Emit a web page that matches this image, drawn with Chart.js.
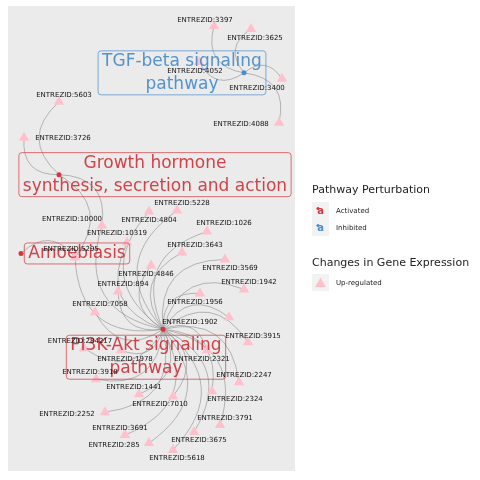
<!DOCTYPE html>
<html>
<head>
<meta charset="utf-8">
<script src="https://cdn.jsdelivr.net/npm/chart.js@4"></script>
<style>
  body { margin: 0; background: #fff; }
  #wrap { width: 480px; height: 480px; }
</style>
</head>
<body>
<div id="wrap"><canvas id="net" width="480" height="480"></canvas></div>
<script>
// Network layout (layout units)
const pathwayNames = ['TGF-beta signaling\npathway', 'Growth hormone\nsynthesis, secretion and action', 'Amoebiasis', 'PI3K-Akt signaling\npathway'];
const pathwayState = ['Inhibited', 'Activated', 'Activated', 'Activated'];
const pathwayX = [244, 59, 21, 163];
const pathwayY = [72, 174, 253, 329];
const pathwayLabelX = [182, 155, 77, 146];
const pathwayLabelY = [72, 174, 253, 357];

const geneIds = ['3397', '3625', '4052', '3400', '4088', '5603', '3726', '5228', '4804', '1026', '10319', '10000',
  '3643', '5295', '4846', '3569', '1942', '894', '1956', '7058', '1902', '3915', '284217', '1978', '2321', '3918',
  '2247', '1441', '7010', '2324', '2252', '3791', '3691', '3675', '285', '5618'];
const geneX = [214, 251, 199, 282, 279, 59, 24, 177, 149, 207, 127, 102,
  182, 75, 151, 225, 244, 118, 200, 95, 229, 248, 84, 121, 207, 96,
  239, 139, 173, 212, 105, 220, 125, 194, 149, 173];
const geneY = [25, 28, 61, 78, 122, 101, 137, 210, 211, 231, 242, 225,
  252, 257, 265, 259, 289, 291, 293, 312, 317, 342, 348, 350, 350, 379,
  382, 394, 396, 391, 412, 425, 435, 432, 443, 450];
const geneLabelX = [205, 255, 195, 257, 241, 64, 63, 182, 149, 224, 117, 72,
  195, 71, 146, 230, 249, 123, 195, 100, 190, 253, 80, 125, 202, 90,
  244, 134, 160, 235, 67, 225, 120, 199, 114, 177];
const geneLabelY = [19, 37, 70, 87, 123, 94, 137, 203, 220, 223, 233, 219,
  245, 249, 274, 268, 282, 284, 302, 304, 322, 336, 341, 359, 359, 372,
  375, 387, 404, 399, 414, 418, 428, 440, 445, 458];

// edges: pathway index -> gene id
const edgeFrom = [0, 0, 0, 0, 0,
  1, 1, 1, 1,
  2,
  3, 3, 3, 3, 3, 3, 3, 3, 3, 3, 3, 3, 3, 3, 3, 3, 3, 3, 3, 3, 3, 3, 3, 3, 3, 3, 3, 3, 3];
const edgeTo = ['3397', '3625', '4052', '3400', '4088',
  '5603', '3726', '10000', '5295',
  '5295',
  '10000', '10319', '5295', '4804', '5228', '1026', '3643', '4846', '3569', '1942', '894', '1956', '7058',
  '1902', '3915', '284217', '1978', '2321', '3918', '2247', '1441', '7010', '2324', '2252', '3791',
  '3691', '3675', '285', '5618'];

const RED = '#D0393F';
const BLUE = '#4C8DCB';
const PINK = '#FFC0CB';
const FONT = '"DejaVu Sans", sans-serif';

const geneData = geneIds.map((id, i) => ({ x: geneX[i], y: geneY[i] }));
const pathwayData = pathwayNames.map((n, i) => ({ x: pathwayX[i], y: pathwayY[i] }));
const stateColor = s => (s === 'Activated' ? RED : BLUE);

// draw the curved edges under the points
const edgePlugin = {
  id: 'edges',
  beforeDatasetsDraw(chart) {
    const { ctx, chartArea, scales: { x, y } } = chart;
    ctx.save();
    ctx.fillStyle = '#EBEBEB';
    ctx.fillRect(chartArea.left, chartArea.top, chartArea.width, chartArea.height);
    ctx.strokeStyle = 'rgba(140,140,140,0.75)';
    ctx.lineWidth = 0.8;
    edgeFrom.forEach((p, i) => {
      const g = geneIds.indexOf(edgeTo[i]);
      const x0 = x.getPixelForValue(pathwayX[p]), y0 = y.getPixelForValue(pathwayY[p]);
      const x1 = x.getPixelForValue(geneX[g]), y1 = y.getPixelForValue(geneY[g]);
      const dx = x1 - x0, dy = y1 - y0;
      const cx = (x0 + x1) / 2 + 0.55 * dy;
      const cy = (y0 + y1) / 2 - 0.55 * dx;
      ctx.beginPath();
      ctx.moveTo(x0, y0);
      ctx.quadraticCurveTo(cx, cy, x1, y1);
      ctx.stroke();
    });
    ctx.restore();
  }
};

// pathway label boxes, gene labels and the legend
const labelPlugin = {
  id: 'labels',
  afterDatasetsDraw(chart) {
    const { ctx, scales: { x, y } } = chart;
    ctx.save();
    ctx.textBaseline = 'middle';
    ctx.textAlign = 'center';

    // pathway labels
    ctx.font = '17px ' + FONT;
    pathwayNames.forEach((name, i) => {
      const lines = name.split('\n');
      const lh = 23;
      const cx = x.getPixelForValue(pathwayLabelX[i]);
      const cy = y.getPixelForValue(pathwayLabelY[i]);
      const w = Math.max(...lines.map(l => ctx.measureText(l).width)) + 8;
      const h = lines.length * lh - 2;
      const col = stateColor(pathwayState[i]);
      ctx.globalAlpha = 0.7;
      ctx.strokeStyle = col;
      ctx.lineWidth = 1;
      ctx.beginPath();
      ctx.roundRect(cx - w / 2, cy - h / 2, w, h, 3);
      ctx.stroke();
      ctx.globalAlpha = 0.95;
      ctx.fillStyle = col;
      lines.forEach((l, k) => {
        ctx.fillText(l, cx, cy - (lines.length - 1) * lh / 2 + k * lh);
      });
      ctx.globalAlpha = 1;
    });

    // gene labels
    ctx.font = '7px ' + FONT;
    ctx.fillStyle = '#111';
    geneIds.forEach((id, i) => {
      ctx.fillText('ENTREZID:' + id, x.getPixelForValue(geneLabelX[i]), y.getPixelForValue(geneLabelY[i]));
    });
    ctx.restore();
  },
  afterDraw(chart) {
    const ctx = chart.ctx;
    ctx.save();
    ctx.textBaseline = 'middle';
    ctx.textAlign = 'left';
    ctx.fillStyle = '#222';
    ctx.font = '11px ' + FONT;
    ctx.fillText('Pathway Perturbation', 312, 190);
    ctx.fillText('Changes in Gene Expression', 312, 263);

    const states = ['Activated', 'Inhibited'];
    states.forEach((s, i) => {
      const top = 202 + i * 17;
      ctx.fillStyle = '#F2F2F2';
      ctx.fillRect(312, top, 17, 17);
      ctx.fillStyle = stateColor(s);
      ctx.font = 'bold 10px ' + FONT;
      ctx.textAlign = 'center';
      ctx.fillText('a', 320.5, top + 9);
      ctx.beginPath();
      ctx.arc(318, top + 6.5, 1.6, 0, Math.PI * 2);
      ctx.fill();
      ctx.textAlign = 'left';
      ctx.fillStyle = '#222';
      ctx.font = '7px ' + FONT;
      ctx.fillText(s, 336, top + 9);
    });

    ctx.fillStyle = '#F2F2F2';
    ctx.fillRect(312, 274, 17, 17);
    ctx.fillStyle = PINK;
    ctx.beginPath();
    ctx.moveTo(320.5, 277.5);
    ctx.lineTo(326, 287);
    ctx.lineTo(315, 287);
    ctx.closePath();
    ctx.fill();
    ctx.fillStyle = '#222';
    ctx.font = '7px ' + FONT;
    ctx.fillText('Up-regulated', 336, 283);
    ctx.restore();
  }
};

new Chart(document.getElementById('net'), {
  type: 'scatter',
  data: {
    datasets: [
      {
        label: 'genes',
        data: geneData,
        pointStyle: 'triangle',
        pointRadius: 6,
        backgroundColor: PINK,
        borderWidth: 0
      },
      {
        label: 'pathways',
        data: pathwayData,
        pointRadius: 2.5,
        backgroundColor: pathwayState.map(stateColor),
        borderWidth: 0
      }
    ]
  },
  options: {
    responsive: false,
    animation: false,
    devicePixelRatio: 1,
    layout: { padding: { left: 8, top: 5, right: 185, bottom: 9 } },
    scales: {
      x: { type: 'linear', min: 8, max: 295, display: false },
      y: { type: 'linear', min: 5, max: 471, reverse: true, display: false }
    },
    plugins: {
      legend: { display: false },
      tooltip: { enabled: false }
    }
  },
  plugins: [edgePlugin, labelPlugin]
});
</script>
</body>
</html>
